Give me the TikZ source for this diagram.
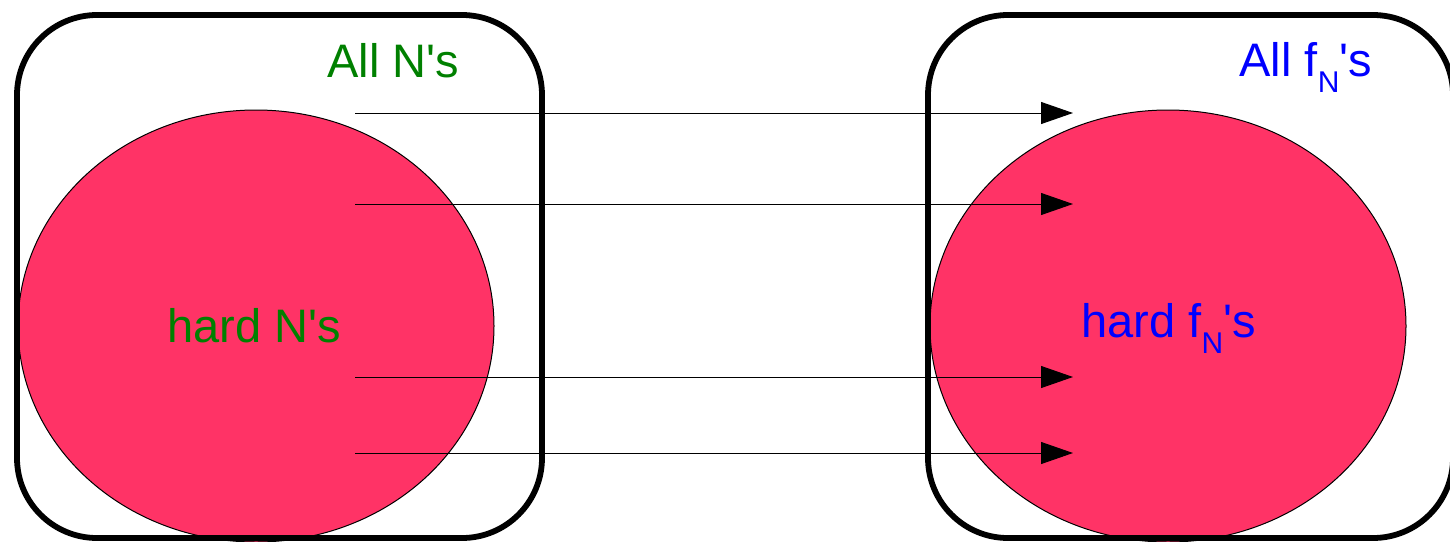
\documentclass[tikz,border=0pt]{standalone}
\usepackage{fontspec}
\setmainfont{Liberation Sans}[Ligatures=TeXOff]
\usetikzlibrary{shapes.geometric,arrows.meta}
\definecolor{hardfill}{RGB}{255,51,102}
\definecolor{ngreen}{RGB}{0,128,0}
\definecolor{fblue}{RGB}{0,0,255}
\tikzset{
  setbox/.style={draw=black, line width=2.9pt, rounded corners=40pt},
  hardset/.style={ellipse, draw=black, line width=0.5pt, fill=hardfill, minimum width=238pt, minimum height=216pt, inner sep=0pt},
  maparrow/.style={line width=0.5pt, -{Triangle[length=16pt,width=11pt]}},
  lbl/.style={inner sep=0pt, anchor=base west, font=\fontsize{23.5pt}{28pt}\selectfont},
}
\newcommand{\subN}{\raisebox{-0.36em}{\fontsize{15pt}{18pt}\selectfont N}}
\begin{document}
\begin{tikzpicture}[x=0.5pt,y=-0.5pt]
\useasboundingbox (0,0) rectangle (1450,541);
\clip (0,0) rectangle (1450,541);
\node[hardset] (hl) at (256,326) {};
\node[hardset] (hr) at (1168,326) {};
\foreach \i/\y in {1/113,2/204,3/377,4/453}{
  \coordinate (s\i) at (355,\y);
  \coordinate (t\i) at (1073,\y);
  \draw[maparrow] (s\i) -- (t\i);
}
\draw[setbox] (17,15) rectangle (542,538);
\draw[setbox] (928,15) rectangle (1453,538);
\node[lbl, text=ngreen] (alln) at (327,77) {All N's};
\node[lbl, text=ngreen] (hardn) at (167,342) {hard N's};
\node[lbl, text=fblue] (allf) at (1239,76) {All f\subN's};
\node[lbl, text=fblue] (hardf) at (1081,337) {hard f\subN's};
\end{tikzpicture}
\end{document}
